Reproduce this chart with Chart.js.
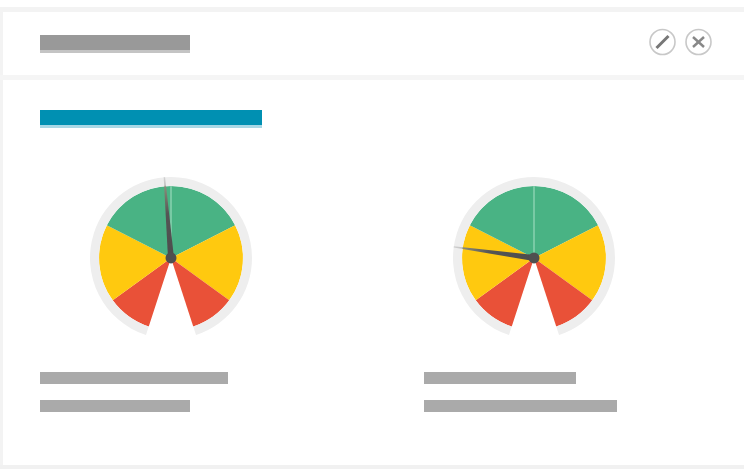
<!DOCTYPE html>
<html><head><meta charset="utf-8">
<script src="https://cdn.jsdelivr.net/npm/chart.js@4"></script>
<style>
html,body{margin:0;padding:0;background:#fff}
#page{position:relative;width:744px;height:469px;overflow:hidden;background:#fff;filter:blur(0.55px)}
#page div,#page canvas,#page svg{position:absolute;display:block}
.wrap{width:180px;height:180px}
</style></head><body>
<div id="page">
<div style="left:0;top:7px;width:744px;height:5px;background:#f3f3f3"></div>
<div style="left:0;top:7px;width:3px;height:462px;background:#f3f3f3"></div>
<div style="left:0;top:75px;width:744px;height:5px;background:#f5f5f5"></div>
<div style="left:0;top:465px;width:744px;height:4px;background:#f1f1f1"></div>
<div style="left:40px;top:35px;width:150px;height:15px;background:#999"></div>
<div style="left:40px;top:50px;width:150px;height:3px;background:#c4c4c4"></div>
<div style="left:40px;top:110px;width:222px;height:15px;background:#0090b2"></div>
<div style="left:40px;top:125px;width:222px;height:3px;background:#a8d8e6"></div>
<div style="left:40px;top:372px;width:188px;height:12px;background:#aaa"></div>
<div style="left:424px;top:372px;width:152px;height:12px;background:#aaa"></div>
<div style="left:40px;top:400px;width:150px;height:12px;background:#aaa"></div>
<div style="left:424px;top:400px;width:193px;height:12px;background:#aaa"></div>
<svg style="left:640px;top:20px" width="90" height="44" viewBox="0 0 90 44">
<circle cx="22.5" cy="22" r="12.5" fill="none" stroke="#c8c8c8" stroke-width="1.6"/>
<line x1="16.5" y1="28" x2="28.5" y2="16" stroke="#777" stroke-width="3"/>
<circle cx="58.5" cy="22" r="12.5" fill="none" stroke="#c8c8c8" stroke-width="1.6"/>
<line x1="53" y1="17" x2="64" y2="27" stroke="#888" stroke-width="2.4"/>
<line x1="64" y1="17" x2="53" y2="27" stroke="#888" stroke-width="2.4"/>
</svg>
<div class="wrap" style="left:81px;top:166px"><canvas id="g1" width="180" height="180"></canvas></div>
<div class="wrap" style="left:444px;top:166px"><canvas id="g2" width="180" height="180"></canvas></div>
</div>
<script>
const zoneValues = [20, 35, 35, 35, 35, 20];
const zoneColors = ['#e95138', '#ffc90f', '#49b384', '#49b384', '#ffc90f', '#e95138'];
const ringValues = [180];
const needleValues = [87.4, 44.4];
const gaugeIds = ['g1', 'g2'];
const scaleMax = 180;
const startAngle = -162;
const sweepAngle = 324;

const gaugePlugin = {
  id: 'gaugeNeedle',
  afterDatasetsDraw(chart, args, opts) {
    const arc = chart.getDatasetMeta(1).data[0];
    const outer = chart.getDatasetMeta(0).data[0];
    const {x, y} = arc;
    const ctx = chart.ctx;
    // separator at the boundary between the two green zones
    const boundary = zoneValues.slice(0, 3).reduce((a, b) => a + b, 0);
    const toAngle = v => (startAngle + v / scaleMax * sweepAngle - 90) * Math.PI / 180;
    const sa = toAngle(boundary);
    ctx.save();
    ctx.strokeStyle = '#86d0ae';
    ctx.lineWidth = 1.6;
    ctx.beginPath();
    ctx.moveTo(x, y);
    ctx.lineTo(x + Math.cos(sa) * arc.outerRadius, y + Math.sin(sa) * arc.outerRadius);
    ctx.stroke();
    // needle
    const a = toAngle(opts.value);
    const R = outer.outerRadius;
    const tx = x + Math.cos(a) * R, ty = y + Math.sin(a) * R;
    const nx = -Math.sin(a), ny = Math.cos(a);
    const g = ctx.createLinearGradient(x, y, tx, ty);
    g.addColorStop(0, '#4c4c4c');
    g.addColorStop(0.55, '#555');
    g.addColorStop(0.88, '#8a8a78');
    g.addColorStop(0.9, '#c4c4c4');
    g.addColorStop(1, '#d0d0d0');
    ctx.fillStyle = g;
    ctx.beginPath();
    ctx.moveTo(x + nx * 3, y + ny * 3);
    ctx.lineTo(tx + nx * 0.7, ty + ny * 0.7);
    ctx.lineTo(tx - nx * 0.7, ty - ny * 0.7);
    ctx.lineTo(x - nx * 3, y - ny * 3);
    ctx.closePath();
    ctx.fill();
    // hub
    ctx.fillStyle = '#4f4f4f';
    ctx.beginPath();
    ctx.arc(x, y, 5.5, 0, Math.PI * 2);
    ctx.fill();
    ctx.restore();
  }
};

gaugeIds.forEach((id, i) => {
  new Chart(document.getElementById(id), {
    type: 'doughnut',
    data: {
      datasets: [
        {data: ringValues, backgroundColor: ['#eeeeee'], borderWidth: 0, weight: 1},
        {data: zoneValues, backgroundColor: zoneColors, borderWidth: 0, weight: 8}
      ]
    },
    options: {
      responsive: false,
      animation: false,
      rotation: startAngle,
      circumference: sweepAngle,
      cutout: 0,
      layout: {padding: 9},
      events: [],
      plugins: {legend: {display: false}, tooltip: {enabled: false}, gaugeNeedle: {value: needleValues[i]}}
    },
    plugins: [gaugePlugin]
  });
});
</script>
</body></html>
